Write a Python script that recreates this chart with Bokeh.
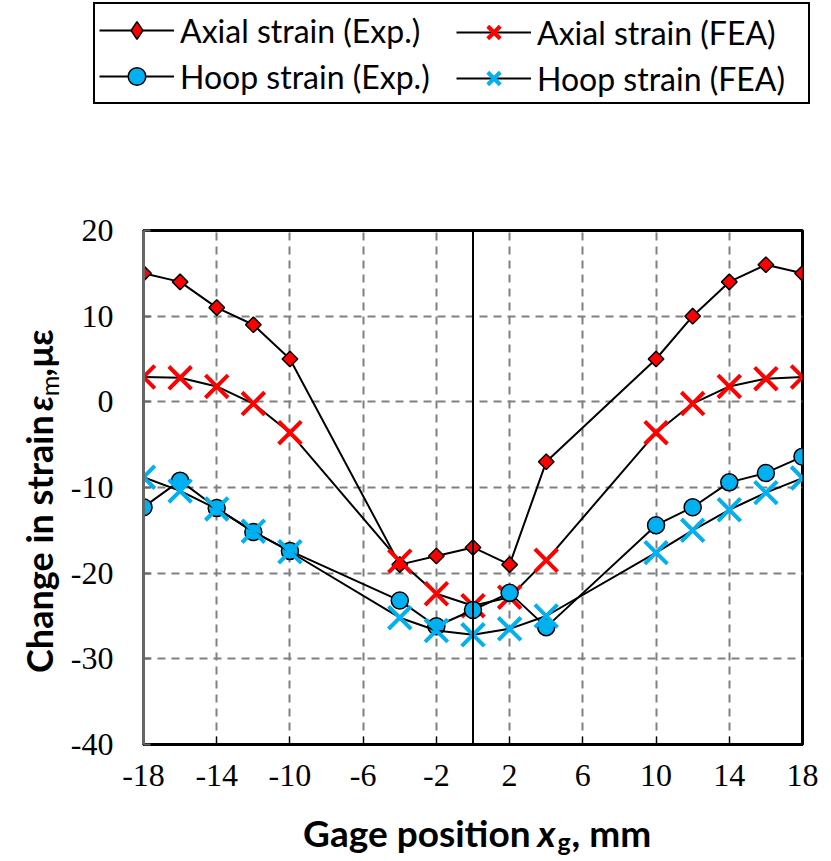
import numpy as np
from bokeh.plotting import figure
from bokeh.layouts import column, row
from bokeh.models import Legend, LegendItem, Label, Span, FixedTicker
from bokeh.embed import file_html
from bokeh.resources import INLINE

# ---------------- data ----------------
x_exp = [-18, -16, -14, -12, -10, -4, -2, 0, 2, 4, 10, 12, 14, 16, 18]
axial_exp = [15, 14, 11, 9, 5, -19, -18, -17, -19, -7, 5, 10, 14, 16, 15]
hoop_exp = [-12.3, -9.2, -12.4, -15.2, -17.4, -23.2, -26.2, -24.3, -22.3, -26.3,
            -14.4, -12.3, -9.4, -8.3, -6.4]
x_fea = [-18, -16, -14, -12, -10, -4, -2, 0, 2, 4, 10, 12, 14, 16, 18]
axial_fea = [2.9, 2.8, 1.8, -0.2, -3.6, -18.6, -22.4, -23.8, -22.8, -18.5,
             -3.6, -0.2, 1.8, 2.7, 2.9]
hoop_fea = [-8.8, -10.4, -12.5, -15.1, -17.5, -25.2, -26.7, -27.2, -26.5, -25.0,
            -17.6, -15.0, -12.6, -10.6, -8.9]

x_ticks = [-18, -14, -10, -6, -2, 2, 6, 10, 14, 18]
x_tick_labels = ["-18", "-14", "-10", "-6", "-2", "2", "6", "10", "14", "18"]
y_ticks = [-40, -30, -20, -10, 0, 10, 20]
y_tick_labels = ["-40", "-30", "-20", "-10", "0", "10", "20"]

labels = ["Axial strain (Exp.)", "Axial strain (FEA)",
          "Hoop strain (Exp.)", "Hoop strain (FEA)"]

# ---------------- layout constants ----------------
W, H = 831, 861
TOP_H = 110      # legend strip
BOT_H = 50       # x-title strip
LEFT_W = 67      # y-title strip
MAIN_W = W - LEFT_W
MAIN_H = H - TOP_H - BOT_H

RED = "#FF0000"
BLUE = "#00B0F0"
TF = "Lato"

STYLES = [
    dict(marker="square", angle=np.pi / 4, size=11, fill_color=RED,
         line_color="black", line_width=1.5),
    dict(marker="x", size=32, line_color=RED, line_width=4),
    dict(marker="circle", size=17, fill_color=BLUE, line_color="black", line_width=1.5),
    dict(marker="x", size=32, line_color=BLUE, line_width=4),
]
LEGEND_STYLES = [
    dict(marker="diamond", fill_color=RED, line_color="black", line_width=1.5),
    dict(marker="x", line_color=RED, line_width=4),
    dict(marker="circle", fill_color=BLUE, line_color="black", line_width=1.5),
    dict(marker="x", line_color=BLUE, line_width=4),
]
SERIES = [(x_exp, axial_exp), (x_fea, axial_fea), (x_exp, hoop_exp), (x_fea, hoop_fea)]


def blank(width, height):
    f = figure(width=width, height=height, x_range=(0, width), y_range=(0, height),
               output_backend="svg", toolbar_location=None, min_border=0,
               x_axis_type=None, y_axis_type=None, title=None)
    f.outline_line_color = None
    f.background_fill_color = "white"
    f.border_fill_color = "white"
    return f


# ---------------- main chart ----------------
p = figure(width=MAIN_W, height=MAIN_H, x_range=(-18, 18), y_range=(-40, 20),
           output_backend="svg", toolbar_location=None, title=None,
           min_border_left=75, min_border_right=29,
           min_border_top=230 - TOP_H, min_border_bottom=H - BOT_H - 744)
p.background_fill_color = "white"
p.border_fill_color = "white"
p.outline_line_color = "black"
p.outline_line_width = 3

p.xaxis.ticker = FixedTicker(ticks=x_ticks)
p.yaxis.ticker = FixedTicker(ticks=y_ticks)
p.xaxis.major_label_overrides = dict(zip(x_ticks, x_tick_labels))
p.yaxis.major_label_overrides = dict(zip(y_ticks, y_tick_labels))
for ax in (p.xaxis[0], p.yaxis[0]):
    ax.major_label_text_font = "Liberation Serif"
    ax.major_label_text_font_size = "32px"
    ax.major_label_text_color = "black"
    ax.minor_tick_in = 0
    ax.minor_tick_out = 0
    ax.major_tick_out = 0
p.xaxis.major_tick_in = 8
p.xaxis.axis_line_color = "black"
p.xaxis.axis_line_width = 3
p.xaxis.major_tick_line_color = "black"
p.xaxis.major_tick_line_width = 1
p.xaxis.major_label_standoff = 20
p.yaxis.major_tick_in = 7
p.yaxis.axis_line_color = "#666666"
p.yaxis.axis_line_width = 3
p.yaxis.major_tick_line_color = "#666666"
p.yaxis.major_tick_line_width = 2
p.yaxis.major_label_standoff = 30

for g in (p.xgrid[0], p.ygrid[0]):
    g.grid_line_color = "#808080"
    g.grid_line_width = 2
    g.grid_line_dash = "8 6"

p.add_layout(Span(location=0, dimension="height", line_color="black", line_width=2))

for (xs, ys), st in zip(SERIES, STYLES):
    p.line(xs, ys, line_color="black", line_width=2)
    p.scatter(xs, ys, **st)

# ---------------- legend strip ----------------
ft = blank(W, TOP_H)
items = []
for (xs, ys), st, lab in zip(SERIES, LEGEND_STYLES, labels):
    # hidden proxies: only their legend glyphs are shown
    rl = ft.line(xs, ys, line_color="black", line_width=2, visible=False)
    rm = ft.scatter(xs, ys, visible=False, **st)
    items.append(LegendItem(label=lab, renderers=[rl, rm]))

PAD, GW, STD = 4, 75, 6
LW = 806 - 93 - 2 * PAD - GW - STD
common = dict(label_text_font=TF, label_text_font_size="32px",
              label_text_color="black", glyph_width=GW, glyph_height=44,
              label_height=44, label_standoff=STD, padding=PAD, spacing=2,
              margin=0, orientation="vertical", inactive_fill_alpha=0,
              border_line_width=2, label_width=LW)
leg1 = Legend(items=[items[0], items[2]],
              location=(93, TOP_H - 104),
              border_line_color="black", border_line_alpha=1,
              background_fill_color="white", background_fill_alpha=1, **common)
leg2 = Legend(items=[items[1], items[3]],
              location=(531 - GW - PAD, TOP_H - 104),
              border_line_color="white", border_line_alpha=0,
              background_fill_alpha=0, **common)
ft.add_layout(leg1, "center")
ft.add_layout(leg2, "center")

# ---------------- y-title strip ----------------
fl = blank(LEFT_W, MAIN_H)
A = np.pi / 2
yb = 38
SHIFT = 48


def ly(py):
    return (TOP_H + MAIN_H) - py + SHIFT


lab_kw = dict(text_font=TF, text_color="black", text_baseline="alphabetic")
fl.add_layout(Label(x=yb, y=ly(410), text="Change in strain", text_font_size="36px",
                    text_font_style="bold", angle=A, text_align="right", **lab_kw))
fl.add_layout(Label(x=yb, y=ly(404), text="ε", text_font_size="36px",
                    text_font_style="bold italic", angle=A, text_align="left", **lab_kw))
fl.add_layout(Label(x=yb + 10, y=ly(384), text="m", text_font_size="25px",
                    angle=A, text_align="left", **lab_kw))
fl.add_layout(Label(x=yb, y=ly(357), text=",", text_font_size="36px",
                    text_font_style="bold", angle=A, text_align="left", **lab_kw))
fl.add_layout(Label(x=yb, y=ly(345), text="με", text_font_size="36px",
                    text_font_style="bold", angle=A, text_align="left", **lab_kw))

# ---------------- x-title strip ----------------
fb = blank(W, BOT_H)
xb = H - 846 + 14
fb.add_layout(Label(x=530, y=xb, text="Gage position", text_font_size="37px",
                    text_font_style="bold", text_align="right", **lab_kw))
fb.add_layout(Label(x=537, y=xb, text="x", text_font_size="37px",
                    text_font_style="bold italic", text_align="left", **lab_kw))
fb.add_layout(Label(x=557, y=xb - 8, text="g", text_font_size="25px",
                    text_font_style="bold", text_align="left", **lab_kw))
fb.add_layout(Label(x=571, y=xb, text=", mm", text_font_size="37px",
                    text_font_style="bold", text_align="left", **lab_kw))

layout = column(ft, row(fl, p, spacing=0), fb, spacing=0)
open("out.html", "w").write(file_html(layout, INLINE))
